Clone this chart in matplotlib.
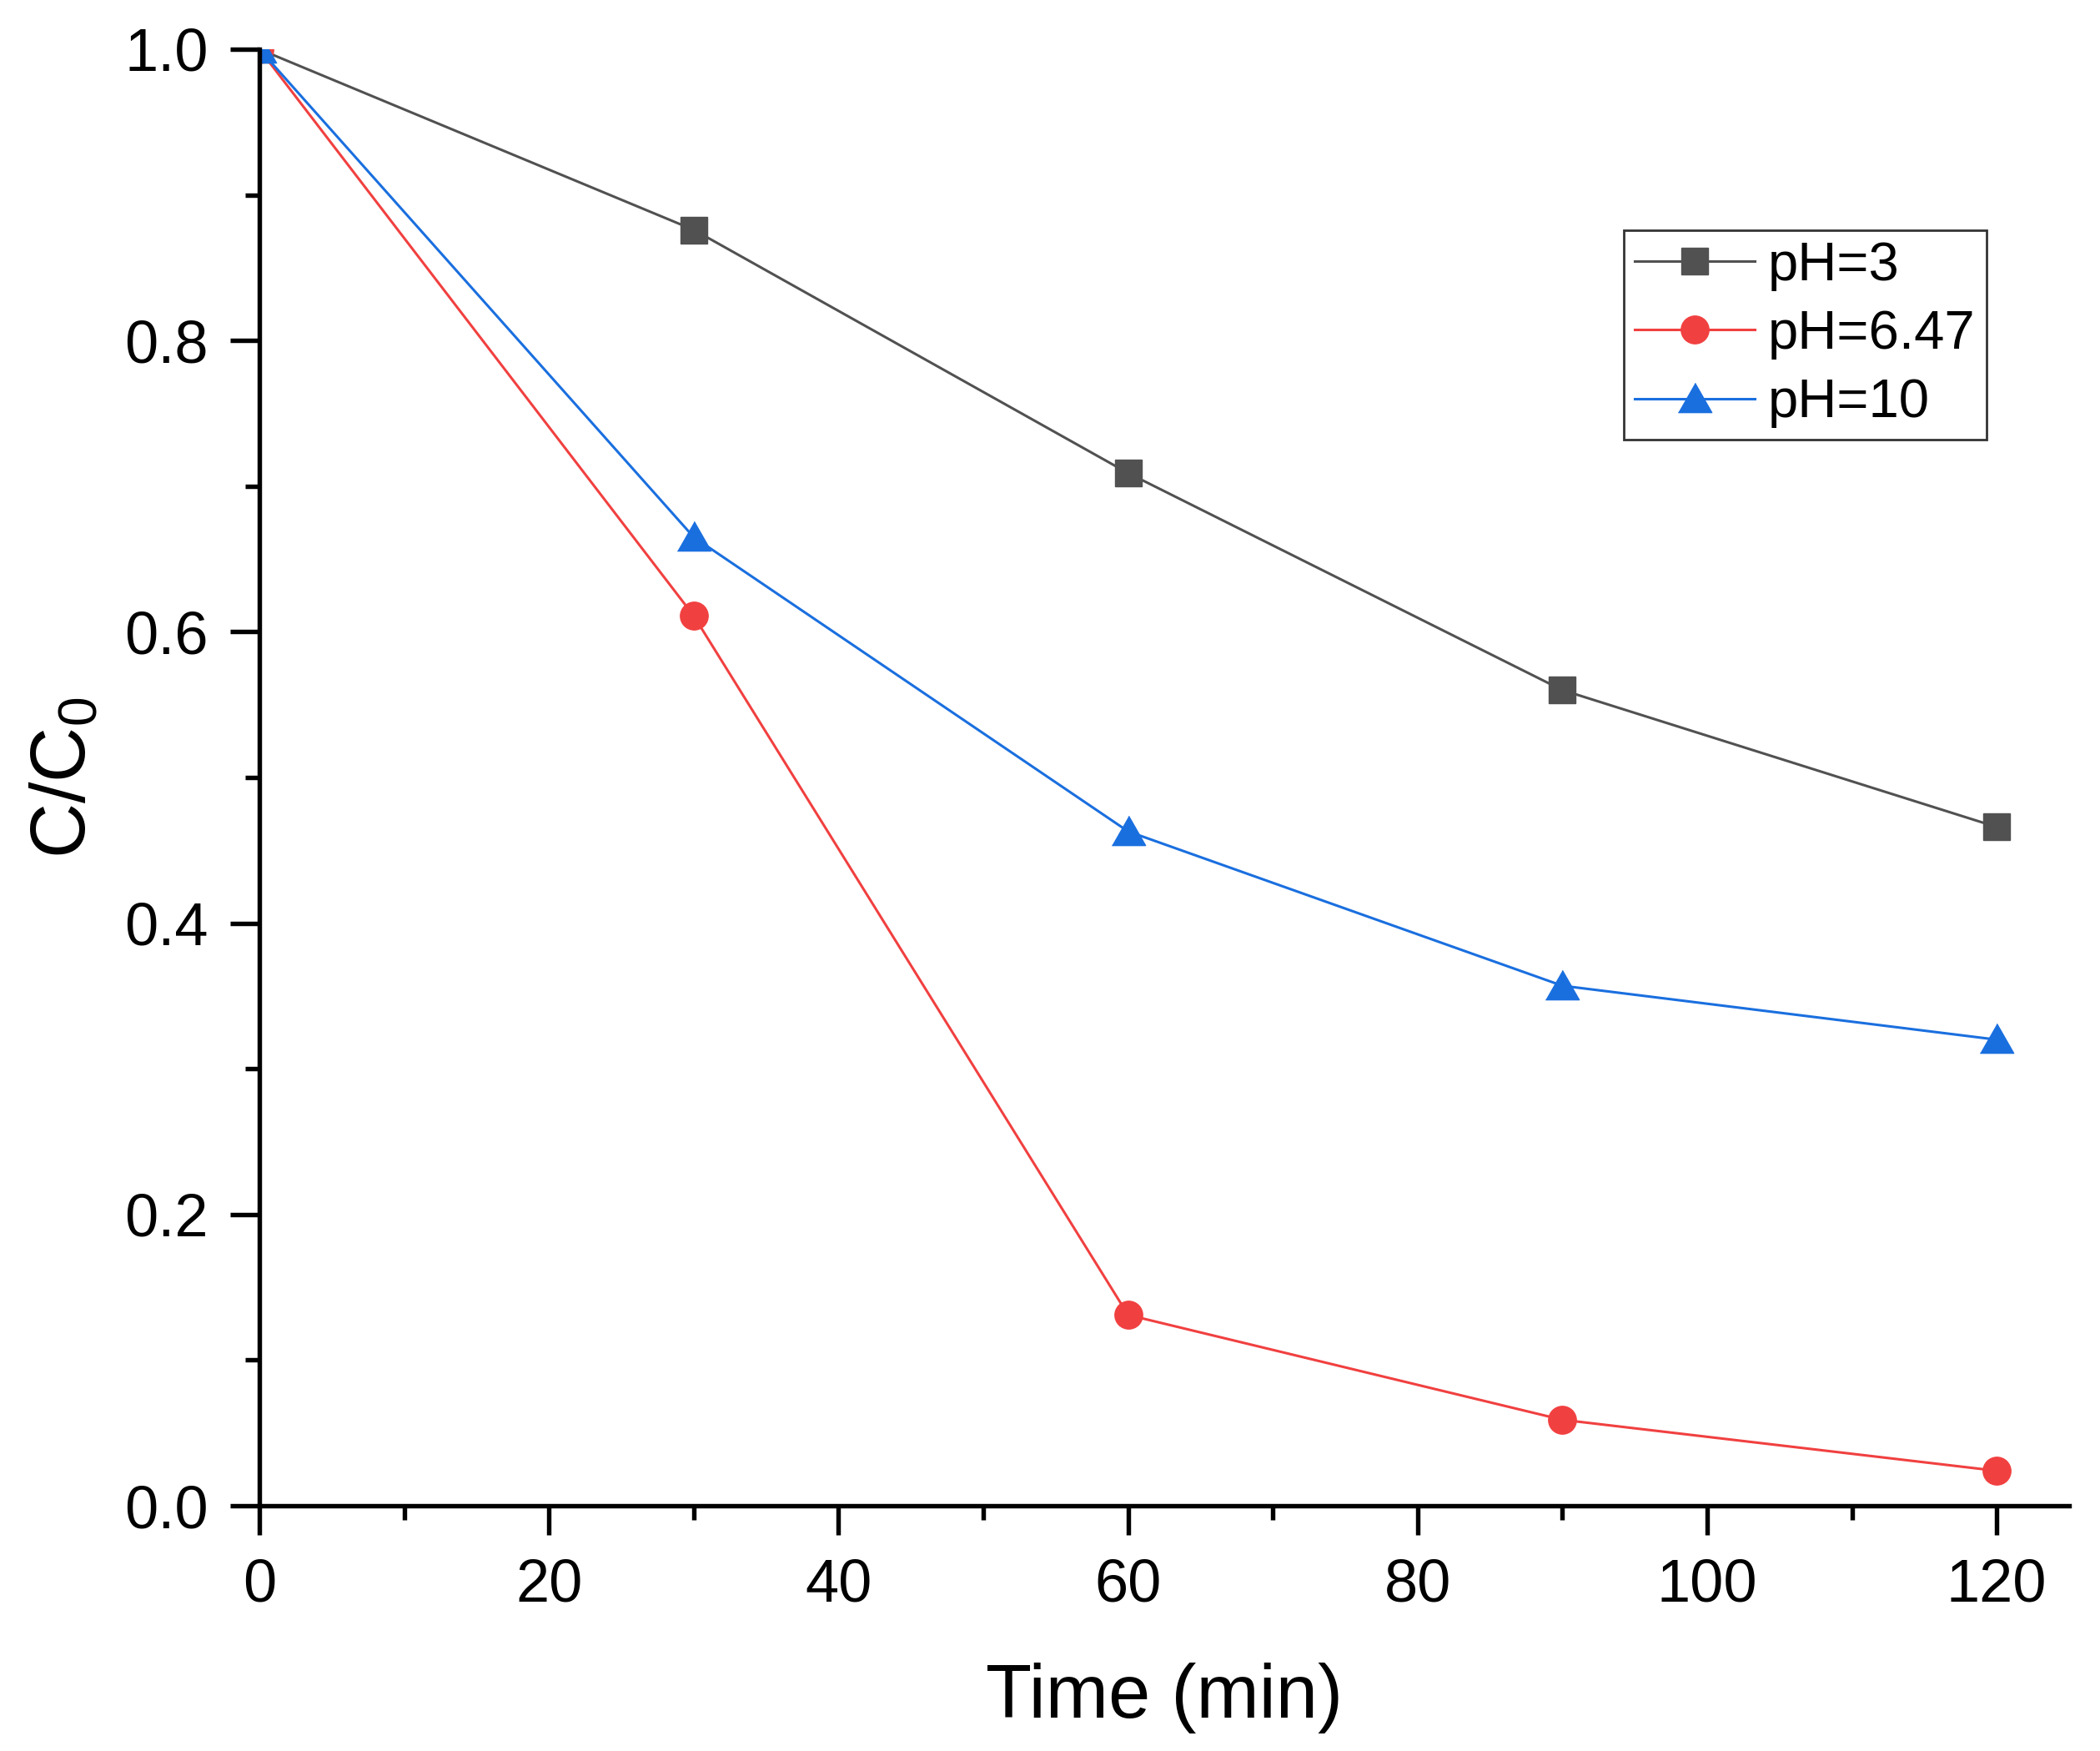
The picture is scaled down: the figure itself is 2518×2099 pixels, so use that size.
import matplotlib
matplotlib.use("Agg")
import matplotlib.pyplot as plt
from matplotlib.ticker import MultipleLocator

plt.rcParams['font.family'] = ['Liberation Sans', 'DejaVu Sans']
plt.rcParams['mathtext.default'] = 'regular'

time_min = [0, 30, 60, 90, 120]
ph3 = [1.0, 0.876, 0.709, 0.560, 0.466]
ph647 = [1.0, 0.611, 0.131, 0.059, 0.024]
ph10 = [1.0, 0.665, 0.463, 0.357, 0.320]
labels = ["pH=3", "pH=6.47", "pH=10"]
colors = ["#515151", "#F14040", "#1A6FDF"]

fig = plt.figure(figsize=(25.18, 20.99), dpi=100)
ax = fig.add_axes([311/2518, 1 - 1805/2099, (2481-311)/2518, (1805-59)/2099])

tri = [(-1.0, -0.8), (1.0, -0.8), (0.0, 0.95)]
ax.plot(time_min, ph3, color=colors[0], lw=2.2, marker='s', ms=22.5, label=labels[0])
ax.plot(time_min, ph647, color=colors[1], lw=2.2, marker='o', ms=24, label=labels[1])
ax.plot(time_min, ph10, color=colors[2], lw=2.2, marker=tri, ms=29, label=labels[2])

ax.set_xlim(0, 125)
ax.set_ylim(0, 1.0)
ax.xaxis.set_major_locator(MultipleLocator(20))
ax.xaxis.set_minor_locator(MultipleLocator(10))
ax.yaxis.set_major_locator(MultipleLocator(0.2))
ax.yaxis.set_minor_locator(MultipleLocator(0.1))
ax.yaxis.set_major_formatter(matplotlib.ticker.FormatStrFormatter('%.1f'))

for s in ['top', 'right']:
    ax.spines[s].set_visible(False)
for s in ['left', 'bottom']:
    ax.spines[s].set_linewidth(3.9)

ax.tick_params(which='major', direction='out', length=25, width=3.9, labelsize=52)
ax.tick_params(which='minor', direction='out', length=12, width=3.9)
ax.tick_params(axis='x', which='major', pad=20)
ax.tick_params(axis='y', which='major', pad=19)

ax.set_xlabel("Time (min)", fontsize=65, labelpad=42)
ax.set_ylabel("C/C$_{0}$", fontsize=66, labelpad=20)

leg = ax.legend(loc='upper left', bbox_to_anchor=(0.754, 0.8757), borderaxespad=0,
                fontsize=47, frameon=True, fancybox=False, edgecolor='black',
                handlelength=2.2, handletextpad=0.25, labelspacing=0.34,
                borderpad=0.2, numpoints=1)
leg.get_frame().set_linewidth(2.0)

fig.savefig("out.png", dpi=100, facecolor='white')
